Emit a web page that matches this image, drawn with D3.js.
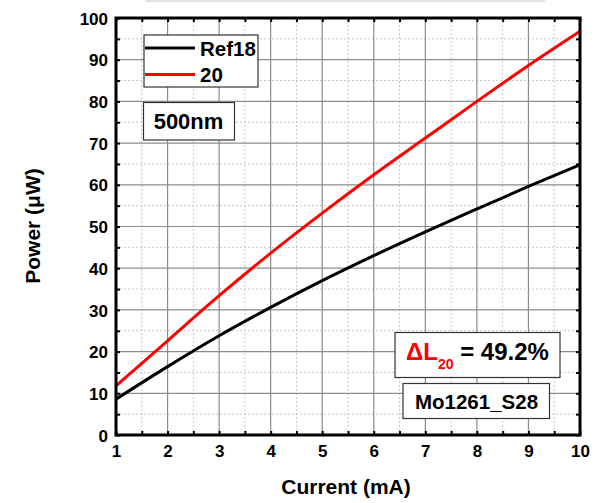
<!DOCTYPE html>
<html>
<head>
<meta charset="utf-8">
<script src="https://cdn.jsdelivr.net/npm/d3@7"></script>
<style>
  html, body { margin: 0; padding: 0; background: #fff; }
  svg { display: block; font-family: "Liberation Sans", Arial, sans-serif; font-weight: bold; }
</style>
</head>
<body>
<svg id="chart" width="596" height="503"></svg>
<script>
// Optical output power vs drive current
const currents = [1, 2, 3, 4, 5, 6, 7, 8, 9, 10];
const ref18Power = [8.6, 16.4, 23.8, 30.6, 37.0, 43.0, 48.7, 54.2, 59.6, 64.8];
const s20Power = [11.8, 22.6, 33.4, 43.6, 53.2, 62.4, 71.2, 80.0, 88.6, 96.8];
const seriesNames = ["Ref18", "20"];
const seriesColors = ["#000000", "#ff0000"];
const xTicks = [1, 2, 3, 4, 5, 6, 7, 8, 9, 10];
const yTicks = [0, 10, 20, 30, 40, 50, 60, 70, 80, 90, 100];

const svg = d3.select("#chart");
const margin = { left: 116, right: 16, top: 18, bottom: 68 };
const W = 596, H = 503;
const FONT = "Liberation Sans, Arial, sans-serif";
const x = d3.scaleLinear().domain([1, 10]).range([margin.left, W - margin.right]);
const y = d3.scaleLinear().domain([0, 100]).range([H - margin.bottom, margin.top]);

// faint rule above the plot
svg.append("line").attr("x1", 145).attr("x2", 545).attr("y1", 1).attr("y2", 1)
  .attr("stroke", "#e2e2e2").attr("stroke-width", 2);

// minor grid
const minorX = d3.range(1.5, 10, 1);
const minorY = d3.range(5, 100, 10);
const grid = svg.append("g");
grid.selectAll(".mx").data(minorX).join("line")
  .attr("x1", d => x(d)).attr("x2", d => x(d)).attr("y1", y(0)).attr("y2", y(100))
  .attr("stroke", "#c8c8c8").attr("stroke-width", 1).attr("stroke-dasharray", "2,2");
grid.selectAll(".my").data(minorY).join("line")
  .attr("x1", x(1)).attr("x2", x(10)).attr("y1", d => y(d)).attr("y2", d => y(d))
  .attr("stroke", "#c8c8c8").attr("stroke-width", 1).attr("stroke-dasharray", "2,2");
// major grid
grid.selectAll(".Mx").data(xTicks.slice(1, -1)).join("line")
  .attr("x1", d => x(d)).attr("x2", d => x(d)).attr("y1", y(0)).attr("y2", y(100))
  .attr("stroke", "#8c8c8c").attr("stroke-width", 1.2);
grid.selectAll(".My").data(yTicks.slice(1, -1)).join("line")
  .attr("x1", x(1)).attr("x2", x(10)).attr("y1", d => y(d)).attr("y2", d => y(d))
  .attr("stroke", "#8c8c8c").attr("stroke-width", 1.2);

// axes with inward ticks on all four sides
const tickLen = 4;
function styleAxis(g) {
  g.select(".domain").remove();
  g.selectAll(".tick line").attr("stroke", "#000").attr("stroke-width", 2);
}
function styleLabels(g) {
  g.selectAll("text").attr("font-size", 17).attr("font-weight", "bold")
    .attr("font-family", FONT).attr("fill", "#000");
}
svg.append("g").attr("transform", `translate(0,${y(0)})`)
  .call(d3.axisBottom(x).tickValues(xTicks).tickSize(-tickLen).tickPadding(0).tickFormat(d3.format("d")))
  .call(styleAxis).call(styleLabels)
  .call(g => g.selectAll("text").attr("y", 22).attr("dy", null));
svg.append("g").attr("transform", `translate(0,${y(0)})`)
  .call(d3.axisBottom(x).tickValues(minorX).tickSize(-tickLen).tickFormat(""))
  .call(styleAxis);
svg.append("g").attr("transform", `translate(0,${y(100)})`)
  .call(d3.axisTop(x).tickValues(xTicks.concat(minorX)).tickSize(-tickLen).tickFormat(""))
  .call(styleAxis);
svg.append("g").attr("transform", `translate(${x(1)},0)`)
  .call(d3.axisLeft(y).tickValues(yTicks).tickSize(-tickLen).tickPadding(0).tickFormat(d3.format("d")))
  .call(styleAxis).call(styleLabels)
  .call(g => g.selectAll("text").attr("x", -8).attr("dy", "0.36em"));
svg.append("g").attr("transform", `translate(${x(1)},0)`)
  .call(d3.axisLeft(y).tickValues(minorY).tickSize(-tickLen).tickFormat(""))
  .call(styleAxis);
svg.append("g").attr("transform", `translate(${x(10)},0)`)
  .call(d3.axisRight(y).tickValues(yTicks.concat(minorY)).tickSize(-tickLen).tickFormat(""))
  .call(styleAxis);

// curves
const line = d3.line().x(d => x(d[0])).y(d => y(d[1])).curve(d3.curveMonotoneX);
[ref18Power, s20Power].forEach((vals, i) => {
  svg.append("path").datum(currents.map((c, j) => [c, vals[j]]))
    .attr("d", line).attr("fill", "none")
    .attr("stroke", seriesColors[i]).attr("stroke-width", 3);
});

// frame
svg.append("rect").attr("x", x(1)).attr("y", y(100))
  .attr("width", x(10) - x(1)).attr("height", y(0) - y(100))
  .attr("fill", "none").attr("stroke", "#000").attr("stroke-width", 3);

// legend
const lg = svg.append("g");
lg.append("rect").attr("x", 144).attr("y", 35).attr("width", 114).attr("height", 52)
  .attr("fill", "#fff").attr("stroke", "#333").attr("stroke-width", 1.2);
seriesNames.forEach((name, i) => {
  const yy = 48 + i * 26.5;
  lg.append("line").attr("x1", 145).attr("x2", 195).attr("y1", yy).attr("y2", yy)
    .attr("stroke", seriesColors[i]).attr("stroke-width", 3);
  lg.append("text").attr("x", 200).attr("y", yy + 7.5).attr("font-size", 20.5).text(name);
});

// wavelength label
svg.append("rect").attr("x", 143.5).attr("y", 102.5).attr("width", 91).attr("height", 37.5)
  .attr("fill", "#fff").attr("stroke", "#333").attr("stroke-width", 1.2);
svg.append("text").attr("x", 188.5).attr("y", 129).attr("text-anchor", "middle")
  .attr("font-size", 22).text("500nm");

// improvement label
svg.append("rect").attr("x", 395).attr("y", 332.5).attr("width", 165).attr("height", 45)
  .attr("fill", "#fff").attr("stroke", "#333").attr("stroke-width", 1.2);
const dl = svg.append("text").attr("x", 406).attr("y", 360).attr("font-size", 24);
dl.append("tspan").attr("fill", "#ff0000").text("ΔL");
dl.append("tspan").attr("fill", "#ff0000").attr("font-size", 14).attr("dy", 9).text("20");
dl.append("tspan").attr("fill", "#000").attr("dy", -9).text(" = 49.2%");

// sample id
svg.append("rect").attr("x", 403).attr("y", 383.5).attr("width", 146.5).attr("height", 35)
  .attr("fill", "#fff").attr("stroke", "#333").attr("stroke-width", 1.2);
svg.append("text").attr("x", 476.5).attr("y", 408.5).attr("text-anchor", "middle")
  .attr("font-size", 20.5).text("Mo1261_S28");

// axis titles
svg.append("text").attr("x", 346).attr("y", 494).attr("text-anchor", "middle")
  .attr("font-size", 21).text("Current (mA)");
svg.append("text").attr("transform", "translate(40,226) rotate(-90)").attr("text-anchor", "middle")
  .attr("font-size", 21).text("Power (μW)");
</script>
</body>
</html>
